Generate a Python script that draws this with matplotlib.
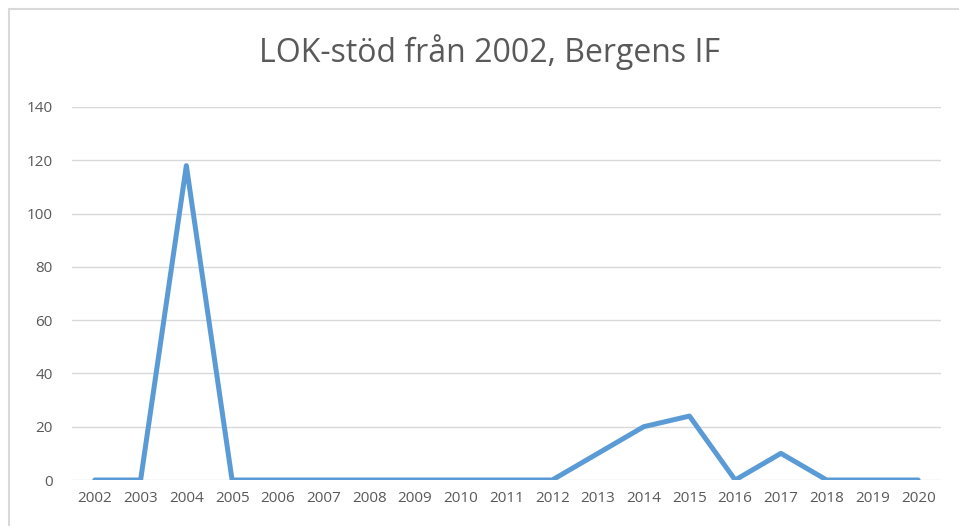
import matplotlib.pyplot as plt
from matplotlib.patches import Rectangle

years = [str(y) for y in range(2002, 2021)]
values = [0, 0, 118, 0, 0, 0, 0, 0, 0, 0, 0, 10, 20, 24, 0, 10, 0, 0, 0]
yticks = [0, 20, 40, 60, 80, 100, 120, 140]

W, H = 959, 526
fig = plt.figure(figsize=(W / 100, H / 100), dpi=100)
plt.rcParams['font.family'] = ['Open Sans', 'DejaVu Sans']

# light frame around the chart (runs off the right and bottom edge)
fig.patches.append(Rectangle((9 / W, -0.1), 1.2, 1 - 9 / H + 0.1,
                             transform=fig.transFigure, fill=False,
                             edgecolor='#d9d9d9', linewidth=1.5))

ax = fig.add_axes([72 / W, 1 - 480 / H, (941 - 72) / W, (480 - 107) / H])
x = list(range(len(years)))
ax.plot(x, values, color='#5b9bd5', linewidth=3.6,
        solid_capstyle='round', solid_joinstyle='round', zorder=3)

ax.set_xlim(-0.5, len(years) - 0.5)
ax.set_ylim(0, 140)
ax.set_yticks(yticks)
ax.set_xticks(x)
ax.set_xticklabels(years)
ax.grid(axis='y', color='#d9d9d9', linewidth=1)
ax.set_axisbelow(True)
for s in ax.spines.values():
    s.set_visible(False)
ax.tick_params(length=0, colors='#595959', labelsize=11)
ax.tick_params(axis='y', pad=14)
ax.tick_params(axis='x', pad=8)

fig.text(0.5 + 10 / W, 1 - 52 / H, 'LOK-stöd från 2002, Bergens IF',
         ha='center', va='center', fontsize=23, color='#595959')

fig.savefig('out.png', dpi=100)
